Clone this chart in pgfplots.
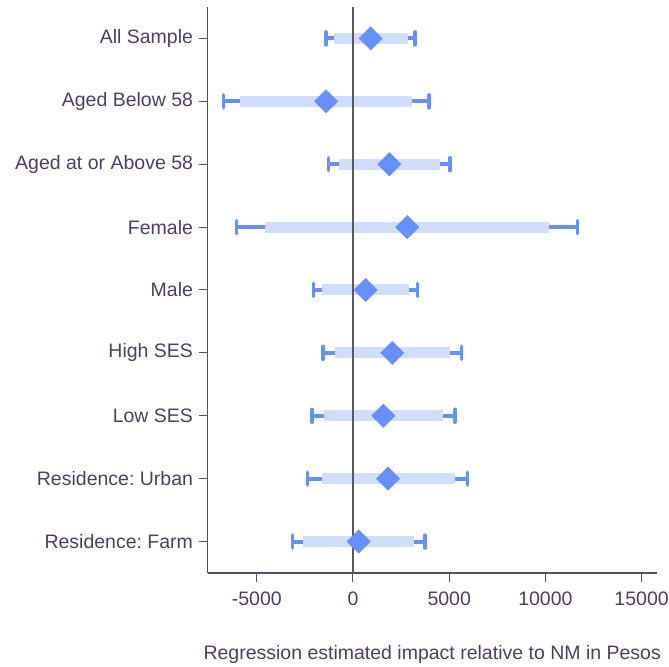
\documentclass[border=0pt]{standalone}
\usepackage{pgfplots}
\usepackage{pgfplotstable}
\pgfplotsset{compat=1.18}
\usepackage{fontspec}
\setmainfont{Liberation Sans}
\frenchspacing
\definecolor{txt}{RGB}{80,62,94}
\definecolor{axc}{RGB}{92,74,104}
\definecolor{blu}{RGB}{102,144,255}
\definecolor{lblu}{RGB}{208,221,252}
\definecolor{zer}{RGB}{90,90,90}

\pgfplotstableread{
y lo95 lo90 est hi90 hi95
9 -1400 -1000 920 2860 3220
8 -6740 -5860 -1400 3070 3950
7 -1265 -745 1890 4520 5040
6 -6050 -4560 2820 10190 11680
5 -2045 -1595 660 2910 3345
4 -1560 -935 2045 5040 5630
3 -2130 -1505 1580 4680 5300
2 -2355 -1630 1820 5285 5960
1 -3150 -2600 295 3155 3740
}\datatab

\begin{document}
\fontsize{19.5}{23}\selectfont
\begin{tikzpicture}
\begin{axis}[
  scale only axis,
  width=449pt, height=566pt,
  xmin=-7552, xmax=15785,
  ymin=0.5, ymax=9.5,
  axis lines*=left,
  axis line style={draw=axc, line width=1.6pt},
  tick align=outside,
  major tick length=9pt,
  tick style={draw=axc, line width=1pt},
  xtick={-5000,0,5000,10000,15000},
  scaled x ticks=false,
  ytick={1,2,3,4,5,6,7,8,9},
  yticklabels={Residence: Farm, Residence: Urban, Low SES, High SES, Male, Female, Aged at or Above 58, Aged Below 58, All Sample},
  /pgf/number format/1000 sep={},
  /pgf/number format/assume math mode=true,
  ticklabel style={font=\fontsize{19.5}{23}\selectfont\frenchspacing, text=txt},
  xticklabel style={yshift=-3pt},
  yticklabel style={xshift=1pt},
  xlabel={Regression estimated impact relative to NM in Pesos},
  xlabel style={font=\fontsize{19.5}{23}\selectfont, text=txt, yshift=-27pt},
  clip=false,
]
% 95% thin lines
\addplot[only marks, mark=none, forget plot,
  error bars/.cd, x dir=both, x explicit, error mark=none,
  error bar style={draw=blu, line width=4pt}]
  table[x=est, y=y,
    x error plus expr=\thisrow{hi95}-\thisrow{est},
    x error minus expr=\thisrow{est}-\thisrow{lo95}] {\datatab};
% caps
\addplot[only marks, color=blu, mark=|, mark size=6.5pt, forget plot,
  mark options={draw=blu, line width=3.5pt, line cap=round}]
  table[x=lo95, y=y] {\datatab};
\addplot[only marks, color=blu, mark=|, mark size=6.5pt, forget plot,
  mark options={draw=blu, line width=3.5pt, line cap=round}]
  table[x=hi95, y=y] {\datatab};
% 90% thick bars
\addplot[only marks, mark=none, forget plot,
  error bars/.cd, x dir=both, x explicit, error mark=none,
  error bar style={draw=lblu, line width=11pt}]
  table[x=est, y=y,
    x error plus expr=\thisrow{hi90}-\thisrow{est},
    x error minus expr=\thisrow{est}-\thisrow{lo90}] {\datatab};
% zero line
\addplot[draw=zer, line width=1.8pt, forget plot] coordinates {(0,0.5) (0,9.5)};
% estimates
\addplot[only marks, color=blu, mark=square*, mark size=8.3pt,
  mark options={rotate=45, fill=blu, draw=blu, line width=0.3pt}]
  table[x=est, y=y] {\datatab};
\coordinate (TL) at (rel axis cs:0,1);
\coordinate (BR) at (rel axis cs:1,0);
\end{axis}
\pgfresetboundingbox
\useasboundingbox ([xshift=-207.7pt, yshift=7pt]TL) rectangle ([xshift=12.3pt, yshift=-94pt]BR);
\end{tikzpicture}
\end{document}
